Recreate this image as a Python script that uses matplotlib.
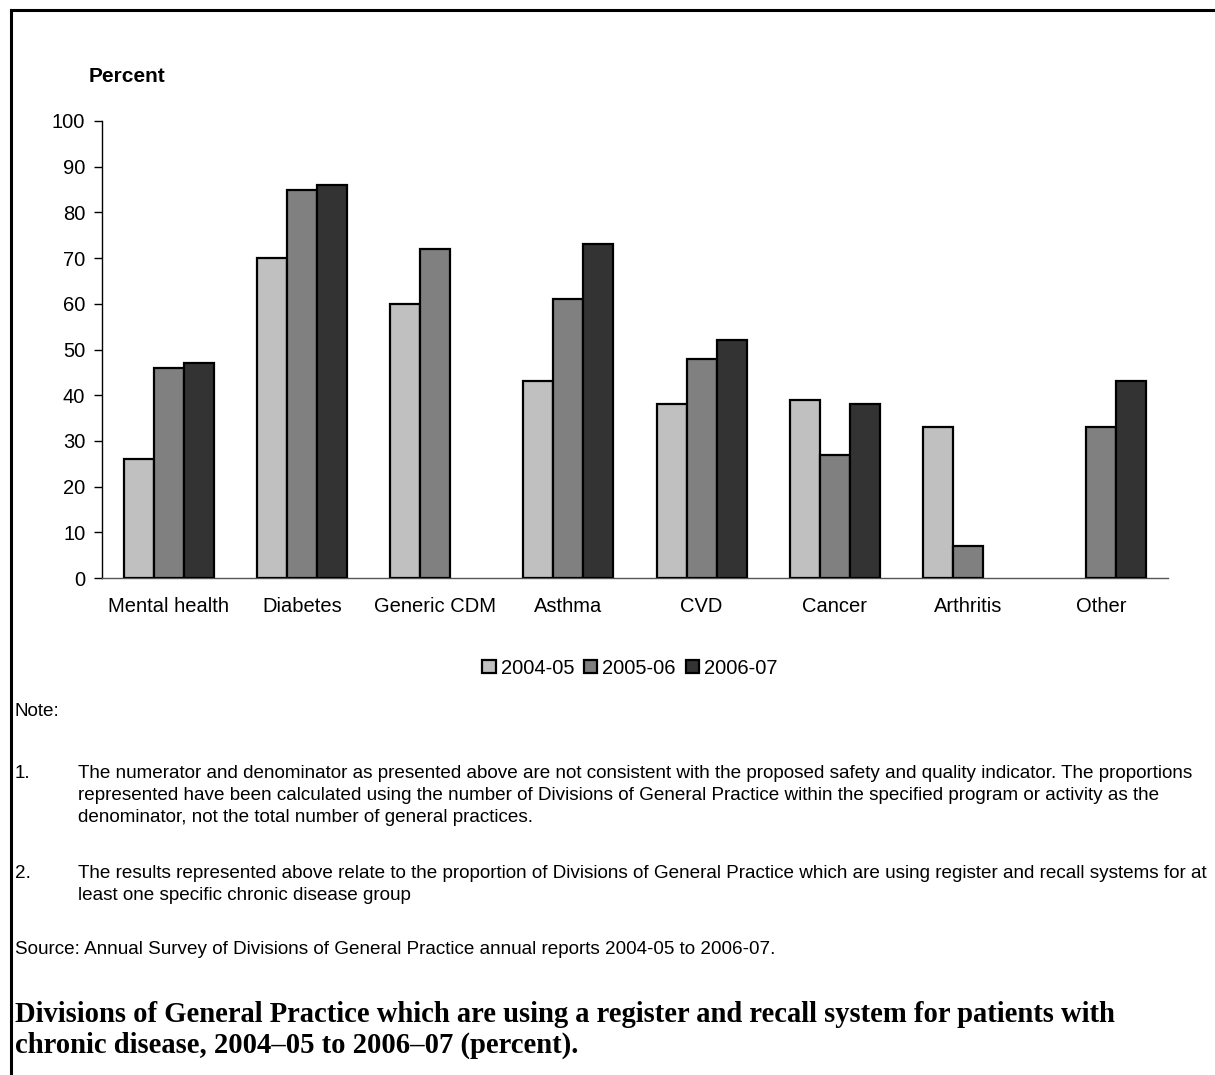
import numpy as np
import matplotlib
matplotlib.use("Agg")
import matplotlib.pyplot as plt
from matplotlib.patches import Patch
from matplotlib.lines import Line2D

categories = ["Mental health", "Diabetes", "Generic CDM", "Asthma", "CVD",
              "Cancer", "Arthritis", "Other"]
series_names = ["2004-05", "2005-06", "2006-07"]
v2004 = [26, 70, 60, 43, 38, 39, 33, None]
v2005 = [46, 85, 72, 61, 48, 27, 7, 33]
v2006 = [47, 86, None, 73, 52, 38, None, 43]
yticks = [0, 10, 20, 30, 40, 50, 60, 70, 80, 90, 100]
colors = ["#C0C0C0", "#808080", "#333333"]

W, H = 1215, 1075
fig = plt.figure(figsize=(W / 100, H / 100), dpi=100)
plt.rcParams['font.family'] = ['Liberation Sans', 'DejaVu Sans']

def fx(px):
    return px / W

def fy(py):
    return 1 - py / H

ax_l, ax_r, ax_t, ax_b = 102, 1168, 121, 578
ax = fig.add_axes([fx(ax_l), fy(ax_b), fx(ax_r - ax_l), (ax_b - ax_t) / H])

x = np.arange(len(categories))
bw = 0.225
for i, (vals, c) in enumerate(zip([v2004, v2005, v2006], colors)):
    h = np.array([np.nan if v is None else v for v in vals], dtype=float)
    ax.bar(x + (i - 1) * bw, h, width=bw, color=c, edgecolor="black",
           linewidth=1.6, zorder=3)

ax.set_xlim(-0.5, len(categories) - 0.5)
ax.set_ylim(0, 100)
ax.set_yticks(yticks)
ax.set_yticklabels([str(t) for t in yticks], fontsize=14.5)
ax.set_xticks(x)
ax.set_xticklabels(categories, fontsize=14.5)
ax.tick_params(axis="x", length=0, pad=14)
ax.tick_params(axis="y", length=6, width=1, direction="out", pad=6)
for s in ["top", "right"]:
    ax.spines[s].set_visible(False)
ax.spines["left"].set_linewidth(1.0)
ax.spines["bottom"].set_linewidth(1.0)
ax.spines["bottom"].set_color("#555555")

fig.text(fx(89), fy(77), "Percent", fontsize=15, fontweight="bold",
         ha="left", va="center")

handles = [Patch(facecolor=c, edgecolor="black", linewidth=1.6) for c in colors]
fig.legend(handles, series_names, loc="center", bbox_to_anchor=(fx(630), fy(668)),
           ncol=3, frameon=False, fontsize=14.5, handlelength=0.65,
           handleheight=0.65, handletextpad=0.25, columnspacing=0.5)

fs_note = 13.6
fig.text(fx(15), fy(712), "Note:", fontsize=fs_note, va="center")
fig.text(fx(15), fy(773), "1.", fontsize=fs_note, va="center")
fig.text(fx(78), fy(773), "The numerator and denominator as presented above are not consistent with the proposed safety and quality indicator. The proportions",
         fontsize=fs_note, va="center")
fig.text(fx(78), fy(795), "represented have been calculated using the number of Divisions of General Practice within the specified program or activity as the",
         fontsize=fs_note, va="center")
fig.text(fx(78), fy(817), "denominator, not the total number of general practices.",
         fontsize=fs_note, va="center")
fig.text(fx(15), fy(873), "2.", fontsize=fs_note, va="center")
fig.text(fx(78), fy(873), "The results represented above relate to the proportion of Divisions of General Practice which are using register and recall systems for at",
         fontsize=fs_note, va="center")
fig.text(fx(78), fy(895), "least one specific chronic disease group",
         fontsize=fs_note, va="center")
fig.text(fx(15), fy(950), "Source: Annual Survey of Divisions of General Practice annual reports 2004-05 to 2006-07.",
         fontsize=fs_note, va="center")

fs_cap = 20.6
fig.text(fx(15), fy(1014), "Divisions of General Practice which are using a register and recall system for patients with",
         fontsize=fs_cap, fontweight="bold", family=["Liberation Serif", "DejaVu Serif"], va="center")
fig.text(fx(15), fy(1045), "chronic disease, 2004\u201305 to 2006\u201307 (percent).",
         fontsize=fs_cap, fontweight="bold", family=["Liberation Serif", "DejaVu Serif"], va="center")

# page frame (top and left edges)
fig.add_artist(Line2D([fx(11), 1], [fy(10), fy(10)], transform=fig.transFigure,
                      color="black", linewidth=2.2))
fig.add_artist(Line2D([fx(11), fx(11)], [0, fy(10)], transform=fig.transFigure,
                      color="black", linewidth=2.2))

fig.savefig("out.png", dpi=100)
